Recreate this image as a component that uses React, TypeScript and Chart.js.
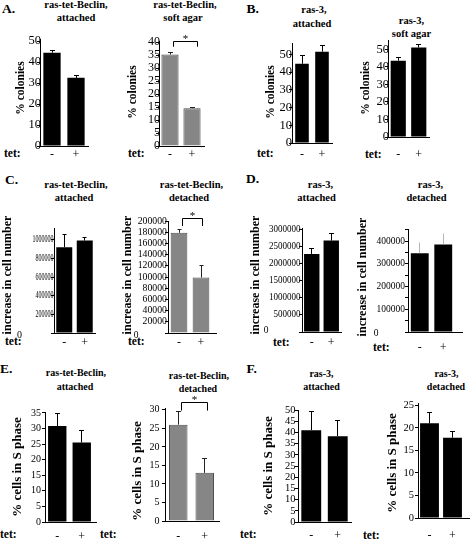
import React, { useEffect, useRef } from "react";
import { Chart, registerables } from "chart.js";

Chart.register(...registerables);

const W = 476;
const H = 541;
const SERIF = '"Liberation Serif", "Times New Roman", Times, serif';

// ---------- data ----------
const CATEGORIES = ["-", "+"];

const A1_VALUES = [44.5, 32.5];
const A1_ERRORS = [1.2, 1.0];
const A1_TICKS = [0, 10, 20, 30, 40, 50];

const A2_VALUES = [35.3, 14.6];
const A2_ERRORS = [0.8, 0.4];
const A2_TICKS = [0, 5, 10, 15, 20, 25, 30, 35, 40];

const B1_VALUES = [44.8, 51.6];
const B1_ERRORS = [4.5, 3.3];
const B1_TICKS = [0, 10, 20, 30, 40, 50];

const B2_VALUES = [43.5, 51.0];
const B2_ERRORS = [1.8, 2.0];
const B2_TICKS = [0, 10, 20, 30, 40, 50];

const C1_VALUES = [920000, 990000];
const C1_ERRORS = [135000, 35000];
const C1_TICKS = [0, 200000, 400000, 600000, 800000, 1000000];

const C2_VALUES = [179000, 99000];
const C2_ERRORS = [6000, 22000];
const C2_TICKS = [0, 20000, 40000, 60000, 80000, 100000, 120000, 140000, 160000, 180000, 200000];

const D1_VALUES = [2290000, 2680000];
const D1_ERRORS = [150000, 210000];
const D1_TICKS = [0, 500000, 1000000, 1500000, 2000000, 2500000, 3000000];

const D2_VALUES = [347000, 386000];
const D2_ERRORS = [48000, 49000];
const D2_TICKS = [0, 100000, 200000, 300000, 400000];
const D2_MARKS = [0, 50000, 100000, 150000, 200000, 250000, 300000, 350000, 400000, 450000];

const E1_VALUES = [30.8, 25.5];
const E1_ERRORS = [4.0, 3.8];
const E1_TICKS = [0, 5, 10, 15, 20, 25, 30, 35];

const E2_VALUES = [26.0, 13.0];
const E2_ERRORS = [3.5, 4.0];
const E2_TICKS = [0, 5, 10, 15, 20, 25, 30];

const F1_VALUES = [41.0, 38.3];
const F1_ERRORS = [8.5, 7.0];
const F1_TICKS = [0, 5, 10, 15, 20, 25, 30, 35, 40, 45, 50];

const F2_VALUES = [21.0, 17.8];
const F2_ERRORS = [2.5, 1.4];
const F2_TICKS = [0, 5, 10, 15, 20, 25];

// significance brackets (data units: top of bracket, bottom of its legs)
const A2_BRACKET = [40.4, 38.3];
const C2_BRACKET = [203600, 191000];
const E2_BRACKET = [31.9, 29.8];

// ---------- layout ----------
type Bracket = { top: number; drop: number; off: [number, number] };
type PanelCfg = {
  values: number[];
  errors: number[];
  ticks: number[];
  marks: number[];
  max: number;
  box: [number, number, number, number];
  axisEnd: number;
  barPct: number;
  gray: boolean;
  errColor: string;
  cap: number;
  yTitle: string;
  titleX: number;
  titleY: number;
  titleSize: number;
  tickSize: number;
  tickScaleX: number;
  tickGap: number;
  zeroX?: number;
  zeroDy?: number;
  xLabY: number;
  bracket?: Bracket;
};

const COLONIES = "% colonies";
const CELLS = "increase in cell number";
const SPHASE = "% cells in S phase";

const PANELS: PanelCfg[] = [
  {
    values: A1_VALUES, errors: A1_ERRORS, ticks: A1_TICKS, marks: A1_TICKS, max: 51,
    box: [40, 39, 88, 146], axisEnd: 88, barPct: 0.72, gray: false, errColor: "#000", cap: 2.5,
    yTitle: COLONIES, titleX: 21, titleY: 88, titleSize: 11.5,
    tickSize: 12.5, tickScaleX: 1, tickGap: -1, xLabY: 155,
  },
  {
    values: A2_VALUES, errors: A2_ERRORS, ticks: A2_TICKS, marks: A2_TICKS, max: 40.5,
    box: [159, 41, 203, 146], axisEnd: 205, barPct: 0.78, gray: true, errColor: "#222", cap: 2.5,
    yTitle: COLONIES, titleX: 133, titleY: 92, titleSize: 11.5,
    tickSize: 12, tickScaleX: 1, tickGap: -1, xLabY: 155,
    bracket: { top: A2_BRACKET[0], drop: A2_BRACKET[1], off: [3.5, 5] },
  },
  {
    values: B1_VALUES, errors: B1_ERRORS, ticks: B1_TICKS, marks: B1_TICKS, max: 56.5,
    box: [292, 43, 332, 143], axisEnd: 332, barPct: 0.68, gray: false, errColor: "#000", cap: 2.5,
    yTitle: COLONIES, titleX: 271, titleY: 92, titleSize: 11.5,
    tickSize: 12.5, tickScaleX: 1, tickGap: 0, xLabY: 155,
  },
  {
    values: B2_VALUES, errors: B2_ERRORS, ticks: B2_TICKS, marks: B2_TICKS, max: 55.3,
    box: [388, 40, 429, 137], axisEnd: 429, barPct: 0.74, gray: false, errColor: "#000", cap: 2.5,
    yTitle: COLONIES, titleX: 366, titleY: 88, titleSize: 11.5,
    tickSize: 12.5, tickScaleX: 1, tickGap: -1, xLabY: 155,
  },
  {
    values: C1_VALUES, errors: C1_ERRORS, ticks: C1_TICKS, marks: C1_TICKS, max: 1125000,
    box: [54, 228, 95, 333], axisEnd: 96, barPct: 0.78, gray: false, errColor: "#000", cap: 2,
    yTitle: CELLS, titleX: 8, titleY: 275, titleSize: 12,
    tickSize: 10, tickScaleX: 0.6, tickGap: 0.5, zeroX: 19.5, zeroDy: 2, xLabY: 343,
  },
  {
    values: C2_VALUES, errors: C2_ERRORS, ticks: C2_TICKS, marks: C2_TICKS, max: 200000,
    box: [168, 221, 212, 333], axisEnd: 217, barPct: 0.76, gray: true, errColor: "#222", cap: 2,
    yTitle: CELLS, titleX: 127.5, titleY: 275, titleSize: 12,
    tickSize: 9.5, tickScaleX: 1.03, tickGap: 1, zeroX: 136, zeroDy: 2, xLabY: 343,
    bracket: { top: C2_BRACKET[0], drop: C2_BRACKET[1], off: [3.3, 1] },
  },
  {
    values: D1_VALUES, errors: D1_ERRORS, ticks: D1_TICKS, marks: D1_TICKS, max: 3050000,
    box: [302, 228, 341, 332], axisEnd: 341, barPct: 0.79, gray: false, errColor: "#000", cap: 2.5,
    yTitle: CELLS, titleX: 256, titleY: 275, titleSize: 12,
    tickSize: 9.5, tickScaleX: 0.95, tickGap: 1.5, zeroX: 266, zeroDy: -2, xLabY: 343,
  },
  {
    values: D2_VALUES, errors: D2_ERRORS, ticks: D2_TICKS, marks: D2_MARKS, max: 454000,
    box: [408, 229, 455, 332], axisEnd: 463, barPct: 0.76, gray: false, errColor: "#b5b5b5", cap: 0,
    yTitle: CELLS, titleX: 363, titleY: 277, titleSize: 12,
    tickSize: 9.5, tickScaleX: 1, tickGap: 3, zeroX: 376, zeroDy: 1, xLabY: 348,
  },
  {
    values: E1_VALUES, errors: E1_ERRORS, ticks: E1_TICKS, marks: E1_TICKS, max: 35.3,
    box: [45, 412, 94, 522], axisEnd: 97, barPct: 0.75, gray: false, errColor: "#000", cap: 2.5,
    yTitle: SPHASE, titleX: 18, titleY: 467, titleSize: 13,
    tickSize: 10, tickScaleX: 1, tickGap: 4, xLabY: 537,
  },
  {
    values: E2_VALUES, errors: E2_ERRORS, ticks: E2_TICKS, marks: E2_TICKS, max: 30.5,
    box: [165, 408, 218, 521], axisEnd: 220, barPct: 0.7, gray: true, errColor: "#222", cap: 2.5,
    yTitle: SPHASE, titleX: 138, titleY: 471, titleSize: 13,
    tickSize: 10, tickScaleX: 1, tickGap: 5.5, xLabY: 537,
    bracket: { top: E2_BRACKET[0], drop: E2_BRACKET[1], off: [3.5, 3] },
  },
  {
    values: F1_VALUES, errors: F1_ERRORS, ticks: F1_TICKS, marks: F1_TICKS, max: 50,
    box: [298, 410, 351, 522], axisEnd: 352, barPct: 0.75, gray: false, errColor: "#000", cap: 2.5,
    yTitle: SPHASE, titleX: 268.5, titleY: 466, titleSize: 13,
    tickSize: 10.5, tickScaleX: 1, tickGap: 2.5, xLabY: 535.5,
  },
  {
    values: F2_VALUES, errors: F2_ERRORS, ticks: F2_TICKS, marks: F2_TICKS, max: 25.5,
    box: [418, 403, 464, 518], axisEnd: 470, barPct: 0.82, gray: false, errColor: "#000", cap: 2.5,
    yTitle: SPHASE, titleX: 393, titleY: 463, titleSize: 13,
    tickSize: 10.5, tickScaleX: 1, tickGap: 4, xLabY: 535.5,
  },
];

type TextItem = { x: number; y: number; text: string; size: number; bold?: boolean; align?: "center" | "left" };

const TITLE_SIZE = 10.5;
const TEXTS: TextItem[] = [
  // panel letters
  { x: 2, y: 13, text: "A.", size: 13.5, align: "left" },
  { x: 246.5, y: 13.5, text: "B.", size: 13.5, align: "left" },
  { x: 5, y: 184, text: "C.", size: 13.5, align: "left" },
  { x: 246, y: 183, text: "D.", size: 13.5, align: "left" },
  { x: 0, y: 373, text: "E.", size: 13.5, align: "left" },
  { x: 246.5, y: 373, text: "F.", size: 13.5, align: "left" },
  // panel titles
  { x: 76, y: 9, text: "ras-tet-Beclin,", size: TITLE_SIZE },
  { x: 76, y: 22, text: "attached", size: TITLE_SIZE },
  { x: 185, y: 9, text: "ras-tet-Beclin,", size: TITLE_SIZE },
  { x: 183, y: 22, text: "soft agar", size: TITLE_SIZE },
  { x: 314, y: 14, text: "ras-3,", size: TITLE_SIZE },
  { x: 312, y: 28, text: "attached", size: TITLE_SIZE },
  { x: 411.5, y: 25, text: "ras-3,", size: TITLE_SIZE },
  { x: 411.5, y: 38, text: "soft agar", size: TITLE_SIZE },
  { x: 76, y: 189, text: "ras-tet-Beclin,", size: TITLE_SIZE },
  { x: 74, y: 202, text: "attached", size: TITLE_SIZE },
  { x: 191.5, y: 189, text: "ras-tet-Beclin,", size: TITLE_SIZE },
  { x: 189, y: 202, text: "detached", size: TITLE_SIZE },
  { x: 320.5, y: 189, text: "ras-3,", size: TITLE_SIZE },
  { x: 316.5, y: 202, text: "attached", size: TITLE_SIZE },
  { x: 430.5, y: 189, text: "ras-3,", size: TITLE_SIZE },
  { x: 426.5, y: 202, text: "detached", size: TITLE_SIZE },
  { x: 76, y: 376, text: "ras-tet-Beclin,", size: 10 },
  { x: 75, y: 390, text: "attached", size: 10 },
  { x: 199, y: 379, text: "ras-tet-Beclin,", size: 10 },
  { x: 198, y: 392, text: "detached", size: 10 },
  { x: 321.5, y: 377, text: "ras-3,", size: 10 },
  { x: 321.5, y: 390, text: "attached", size: 10 },
  { x: 446.5, y: 377, text: "ras-3,", size: 10 },
  { x: 446, y: 390, text: "detached", size: 10 },
  // "tet:" row labels
  { x: 4, y: 158, text: "tet:", size: 11.5, align: "left" },
  { x: 128, y: 158, text: "tet:", size: 11.5, align: "left" },
  { x: 257, y: 158, text: "tet:", size: 11.5, align: "left" },
  { x: 365, y: 159, text: "tet:", size: 11.5, align: "left" },
  { x: 5, y: 346, text: "tet:", size: 11.5, align: "left" },
  { x: 128, y: 346, text: "tet:", size: 11.5, align: "left" },
  { x: 273, y: 347, text: "tet:", size: 11.5, align: "left" },
  { x: 373, y: 352, text: "tet:", size: 11.5, align: "left" },
  { x: 0, y: 539, text: "tet:", size: 11.5, align: "left" },
  { x: 100, y: 539, text: "tet:", size: 11.5, align: "left" },
  { x: 240, y: 539, text: "tet:", size: 11.5, align: "left" },
  { x: 363, y: 540, text: "tet:", size: 11.5, align: "left" },
];

function alignPx(p: number) {
  return Math.round(p - 0.5) + 0.5;
}

function makeDecor(cfg: PanelCfg) {
  return {
    id: "decor",
    afterDraw(chart: any) {
      const ctx: CanvasRenderingContext2D = chart.ctx;
      const xs = chart.scales.x;
      const ys = chart.scales.y;
      const [L, , R] = cfg.box;
      const base = alignPx(ys.getPixelForValue(0));
      ctx.save();
      ctx.lineWidth = 1;
      // extension of the category axis line
      if (cfg.axisEnd > R) {
        ctx.strokeStyle = "#000";
        ctx.beginPath();
        ctx.moveTo(R - 1, base);
        ctx.lineTo(cfg.axisEnd, base);
        ctx.stroke();
      }
      // error bars
      ctx.strokeStyle = cfg.errColor;
      cfg.values.forEach((v, i) => {
        const x = alignPx(xs.getPixelForValue(i));
        const y1 = ys.getPixelForValue(v);
        const y2 = alignPx(ys.getPixelForValue(v + cfg.errors[i]));
        ctx.beginPath();
        ctx.moveTo(x, y1);
        ctx.lineTo(x, y2);
        if (cfg.cap > 0) {
          ctx.moveTo(x - cfg.cap, y2);
          ctx.lineTo(x + cfg.cap, y2);
        }
        ctx.stroke();
      });
      // significance bracket
      if (cfg.bracket) {
        const b = cfg.bracket;
        const x0 = alignPx(xs.getPixelForValue(0) + b.off[0]);
        const x1 = alignPx(xs.getPixelForValue(1) + b.off[1]);
        const yt = alignPx(ys.getPixelForValue(b.top));
        const yd = ys.getPixelForValue(b.drop);
        ctx.strokeStyle = "#000";
        ctx.beginPath();
        ctx.moveTo(x0, yd);
        ctx.lineTo(x0, yt);
        ctx.lineTo(x1, yt);
        ctx.lineTo(x1, yd);
        ctx.stroke();
        ctx.fillStyle = "#000";
        ctx.font = `11px ${SERIF}`;
        ctx.textAlign = "center";
        ctx.textBaseline = "alphabetic";
        ctx.fillText("*", (x0 + x1) / 2, yt + 0.5);
      }
      // y tick labels
      ctx.fillStyle = "#000";
      ctx.font = `${cfg.tickSize}px ${SERIF}`;
      ctx.textBaseline = "middle";
      for (const v of cfg.ticks) {
        const y = ys.getPixelForValue(v);
        ctx.save();
        if (v === 0 && cfg.zeroX !== undefined) {
          ctx.translate(cfg.zeroX, y + (cfg.zeroDy || 0));
          ctx.textAlign = "center";
        } else {
          ctx.translate(L - cfg.tickGap, y);
          ctx.scale(cfg.tickScaleX, 1);
          ctx.textAlign = "right";
        }
        ctx.fillText(String(v), 0, 0);
        ctx.restore();
      }
      // y axis title
      ctx.save();
      ctx.translate(cfg.titleX, cfg.titleY);
      ctx.rotate(-Math.PI / 2);
      ctx.font = `bold ${cfg.titleSize}px ${SERIF}`;
      ctx.textAlign = "center";
      ctx.textBaseline = "middle";
      ctx.fillText(cfg.yTitle, 0, 0);
      ctx.restore();
      // category labels
      ctx.font = `12px ${SERIF}`;
      ctx.textAlign = "center";
      ctx.textBaseline = "middle";
      CATEGORIES.forEach((c, i) => {
        ctx.fillText(c, xs.getPixelForValue(i), cfg.xLabY);
      });
      ctx.restore();
    },
  };
}

function Panel({ cfg }: { cfg: PanelCfg }) {
  const ref = useRef<HTMLCanvasElement>(null);
  useEffect(() => {
    const canvas = ref.current;
    if (!canvas) return;
    const [L, T, R, B] = cfg.box;
    const chart = new Chart(canvas, {
      type: "bar",
      data: {
        labels: CATEGORIES,
        datasets: [
          {
            data: cfg.values,
            backgroundColor: cfg.gray ? "#868686" : "#000000",
            borderColor: cfg.gray ? "#4e4e4e" : "#000000",
            borderWidth: cfg.gray ? 1 : 0,
            barPercentage: cfg.barPct,
            categoryPercentage: 1,
          },
        ],
      },
      options: {
        responsive: false,
        animation: false,
        events: [],
        devicePixelRatio: 1,
        layout: {
          autoPadding: false,
          padding: { left: L - 2, top: T, right: W - R, bottom: H - B - 1 },
        },
        plugins: {
          legend: { display: false },
          tooltip: { enabled: false },
          title: { display: false },
        },
        scales: {
          x: {
            type: "category",
            offset: true,
            grid: { display: false },
            border: { display: true, color: "#000", width: 1 },
            ticks: { display: false },
            afterFit: (s: any) => {
              s.height = 1;
            },
          },
          y: {
            type: "linear",
            min: 0,
            max: cfg.max,
            grid: {
              display: true,
              drawOnChartArea: false,
              drawTicks: true,
              tickLength: 3,
              color: "#000",
              lineWidth: 1,
            },
            border: { display: true, color: "#000", width: 1 },
            ticks: { display: false },
            afterBuildTicks: (s: any) => {
              s.ticks = cfg.marks.map((v) => ({ value: v }));
            },
            afterFit: (s: any) => {
              s.width = 2;
            },
          },
        },
      } as any,
      plugins: [makeDecor(cfg)],
    });
    return () => chart.destroy();
  }, [cfg]);
  return (
    <canvas
      ref={ref}
      width={W}
      height={H}
      style={{ position: "absolute", left: 0, top: 0, width: W, height: H }}
    />
  );
}

function Txt({ item }: { item: TextItem }) {
  const { x, y, text, size } = item;
  const bold = item.bold !== false;
  const align = item.align || "center";
  const style: React.CSSProperties = {
    position: "absolute",
    top: y - 0.84 * size,
    fontSize: size,
    lineHeight: `${size}px`,
    fontFamily: SERIF,
    fontWeight: bold ? "bold" : "normal",
    whiteSpace: "nowrap",
    color: "#000",
  };
  if (align === "center") {
    style.left = x - 100;
    style.width = 200;
    style.textAlign = "center";
  } else {
    style.left = x;
  }
  return <div style={style}>{text}</div>;
}

export default function App() {
  return (
    <div
      style={{
        position: "absolute",
        left: 0,
        top: 0,
        width: W,
        height: H,
        background: "#fff",
        overflow: "hidden",
      }}
    >
      {TEXTS.map((t, i) => (
        <Txt key={"t" + i} item={t} />
      ))}
      {PANELS.map((p, i) => (
        <Panel key={"p" + i} cfg={p} />
      ))}
    </div>
  );
}
